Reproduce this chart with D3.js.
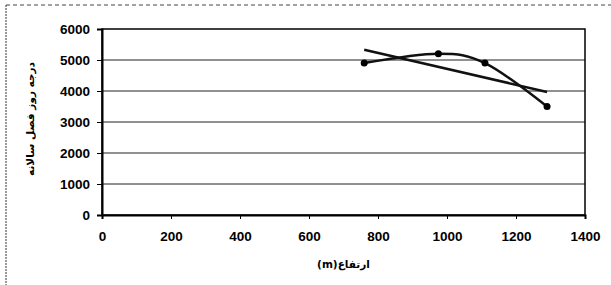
<!DOCTYPE html>
<html><head><meta charset="utf-8">
<script src="https://cdn.jsdelivr.net/npm/d3@7"></script>
<style>body{margin:0;background:#fff}svg{display:block}</style>
</head><body>
<svg id="c" width="611" height="285"></svg>
<script>
const elevation = [760, 975, 1110, 1290];
const degreeDays = [4900, 5200, 4900, 3500];
const trendX = [760, 1290];
const trendY = [5330, 3970];
const xTicks = [0, 200, 400, 600, 800, 1000, 1200, 1400];
const yTicks = [0, 1000, 2000, 3000, 4000, 5000, 6000];
const xTitle = "ارتفاع(m)";
const yTitle = "درجه روز فصل سالانه";

const svg = d3.select("#c");
const L = 102, R = 585, T = 29, B = 215;
const x = d3.scaleLinear().domain([0, 1400]).range([L, R]);
const y = d3.scaleLinear().domain([0, 6000]).range([B, T]);
const font = "'Liberation Sans', Arial, sans-serif";

// outer chart frame (dotted, left and top visible)
svg.append("line").attr("x1", 6).attr("x2", 6).attr("y1", 5).attr("y2", 285)
  .attr("stroke", "#333").attr("stroke-dasharray", "2,1");
svg.append("line").attr("x1", 6).attr("x2", 611).attr("y1", 5).attr("y2", 5)
  .attr("stroke", "#444").attr("stroke-dasharray", "4,3");

// gridlines
svg.append("g").selectAll("line").data(yTicks.filter(d => d > 0 && d < 6000)).join("line")
  .attr("x1", L).attr("x2", R).attr("y1", d => y(d)).attr("y2", d => y(d))
  .attr("stroke", "#222").attr("stroke-width", 1);

// plot border
svg.append("rect").attr("x", L).attr("y", T).attr("width", R - L).attr("height", B - T)
  .attr("fill", "none").attr("stroke", "#000").attr("stroke-width", 1.5);

// axes
const ya = svg.append("g").attr("transform", `translate(${L},0)`)
  .call(d3.axisLeft(y).tickValues(yTicks).tickSize(5).tickPadding(7).tickFormat(d3.format("d")));
const xa = svg.append("g").attr("transform", `translate(0,${B})`)
  .call(d3.axisBottom(x).tickValues(xTicks).tickSize(4).tickPadding(12).tickFormat(d3.format("d")));
[ya, xa].forEach(g => {
  g.select(".domain").attr("stroke", "#000").attr("stroke-width", 2);
  g.selectAll(".tick line").attr("stroke", "#000");
  g.selectAll("text").attr("font-family", font).attr("font-size", 13.5)
    .attr("font-weight", "bold").attr("fill", "#000");
});

// titles
svg.append("text").attr("x", x(700)).attr("y", 268).attr("text-anchor", "middle")
  .attr("font-family", "'DejaVu Sans', sans-serif").attr("font-size", 10.5).attr("font-weight", "bold")
  .attr("direction", "rtl").text(xTitle);
svg.append("text").attr("transform", `translate(34,${(T + B) / 2 - 3}) rotate(-90)`)
  .attr("text-anchor", "middle").attr("font-family", "'DejaVu Sans', sans-serif")
  .attr("font-size", 10.5).attr("font-weight", "bold").attr("direction", "rtl").text(yTitle);

// trend line
svg.append("path").datum(trendX.map((d, i) => [d, trendY[i]]))
  .attr("d", d3.line().x(d => x(d[0])).y(d => y(d[1])))
  .attr("fill", "none").attr("stroke", "#111").attr("stroke-width", 2.5);

// smoothed series
const pts = elevation.map((d, i) => [d, degreeDays[i]]);
svg.append("path").datum(pts)
  .attr("d", d3.line().x(d => x(d[0])).y(d => y(d[1])).curve(d3.curveCardinal.tension(0)))
  .attr("fill", "none").attr("stroke", "#111").attr("stroke-width", 2.5);
svg.append("g").selectAll("circle").data(pts).join("circle")
  .attr("cx", d => x(d[0])).attr("cy", d => y(d[1])).attr("r", 3.5).attr("fill", "#000");
</script>
</body></html>
